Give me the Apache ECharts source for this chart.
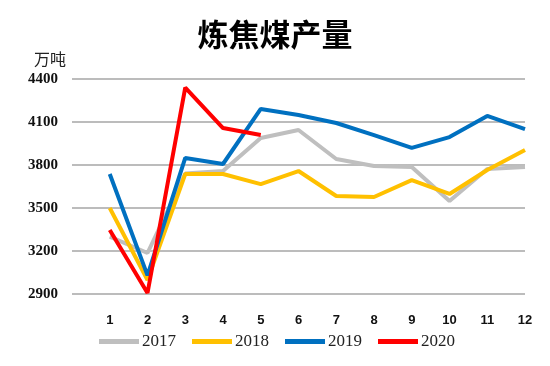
<!DOCTYPE html>
<html><head><meta charset="utf-8">
<script src="https://cdn.jsdelivr.net/npm/echarts@6/dist/echarts.min.js"></script>
<style>html,body{margin:0;padding:0;background:#fff}#c{width:550px;height:366px}</style>
</head><body><div id="c"></div>
<script>
var months = [1,2,3,4,5,6,7,8,9,10,11,12];
var yTicks = [2900,3200,3500,3800,4100,4400];
var s2017 = [3300,3186,3740,3758,3988,4044,3842,3793,3786,3549,3772,3786];
var s2018 = [3500,2998,3737,3737,3667,3758,3584,3577,3695,3598,3765,3905];
var s2019 = [3737,3030,3849,3807,4191,4149,4093,4009,3919,3995,4142,4051];
var s2020 = [3347,2907,4340,4058,4009];
var names = ['2017','2018','2019','2020'];
var colors = ['#BFBFBF','#FFC000','#0070C0','#FF0000'];
var all = [s2017,s2018,s2019,s2020];
function pairs(arr){return arr.map(function(v,i){return [months[i],v];});}
var chart = echarts.init(document.getElementById('c'));
chart.setOption({
  animation:false,
  title:[{text:'炼焦煤产量',left:'center',top:14,textStyle:{fontFamily:'Noto Sans CJK SC',fontWeight:'bold',fontSize:31,color:'#000'}},
         {text:'万吨',left:29,top:46,textStyle:{fontFamily:'Noto Sans CJK SC',fontWeight:'normal',fontSize:16,color:'#222'}}],
  grid:{left:72,right:25,top:79,bottom:72},
  legend:{bottom:11,left:94,itemWidth:40,itemHeight:5,itemGap:16,icon:'rect',
    textStyle:{fontFamily:'Liberation Serif',fontSize:17,color:'#222',padding:[0,0,0,-2]},
    data:names},
  xAxis:{type:'value',min:0,max:12,interval:1,
    axisLine:{show:false},axisTick:{show:false},splitLine:{show:false},
    axisLabel:{margin:20,fontFamily:'Liberation Sans',fontWeight:'bold',fontSize:13,color:'#111',
      formatter:function(v){return months.indexOf(v)>=0?String(v):'';}}},
  yAxis:{type:'value',min:yTicks[0],max:yTicks[yTicks.length-1],interval:300,
    axisLine:{show:false},axisTick:{show:false},
    splitLine:{lineStyle:{color:'#A6A6A6',width:1.5}},
    axisLabel:{margin:14,fontFamily:'Liberation Serif',fontWeight:'bold',fontSize:15,color:'#111',
      formatter:function(v){return String(v);}}},
  series:all.map(function(d,i){return {name:names[i],type:'line',data:pairs(d),showSymbol:false,symbol:'none',
    lineStyle:{width:4,color:colors[i]},itemStyle:{color:colors[i]},z:i+1};})
});
</script></body></html>
